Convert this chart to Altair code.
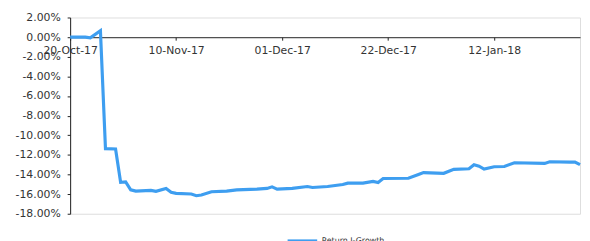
import altair as alt
import pandas as pd

series_name = "Return I-Growth"
dates = ["2017-10-20", "2017-10-23", "2017-10-24", "2017-10-26", "2017-10-27", "2017-10-29",
         "2017-10-30", "2017-10-31", "2017-11-01", "2017-11-02", "2017-11-05", "2017-11-06",
         "2017-11-08", "2017-11-09", "2017-11-10", "2017-11-13", "2017-11-14", "2017-11-15",
         "2017-11-17", "2017-11-20", "2017-11-22", "2017-11-26", "2017-11-28", "2017-11-29",
         "2017-11-30", "2017-12-03", "2017-12-06", "2017-12-07", "2017-12-10", "2017-12-13",
         "2017-12-14", "2017-12-17", "2017-12-19", "2017-12-20", "2017-12-21", "2017-12-26",
         "2017-12-28", "2017-12-29", "2018-01-02", "2018-01-04", "2018-01-07", "2018-01-08",
         "2018-01-09", "2018-01-10", "2018-01-12", "2018-01-14", "2018-01-16", "2018-01-22",
         "2018-01-23", "2018-01-27", "2018-01-28", "2018-01-29"]
values = [0.0, 0.0, -0.08, 0.65, -11.37, -11.4, -14.8, -14.75,
          -15.56, -15.69, -15.62, -15.72, -15.42, -15.82, -15.92, -15.99, -16.16, -16.09,
          -15.76, -15.7, -15.56, -15.49, -15.42, -15.26, -15.49,
          -15.42, -15.22, -15.32, -15.22, -15.02, -14.88, -14.88, -14.71, -14.81, -14.41,
          -14.38, -14.0, -13.81,
          -13.88, -13.48, -13.41, -13.0, -13.15, -13.45, -13.21, -13.18, -12.8, -12.87,
          -12.7, -12.74, -12.74, -13.0]
y_ticks = [2, 0, -2, -4, -6, -8, -10, -12, -14, -16, -18]
x_tick_dates = [(2017, 10, 20), (2017, 11, 10), (2017, 12, 1), (2017, 12, 22), (2018, 1, 12)]

df = pd.DataFrame({
    "date": [d + "T00:00:00" for d in dates],
    "value": values,
    "series": series_name,
})

font = "DejaVu Sans"
txt = "#333333"

chart = alt.Chart(df).mark_line(strokeWidth=3.2, interpolate="linear").encode(
    x=alt.X("date:T",
            scale=alt.Scale(domain=[alt.DateTime(year=2017, month=10, date=20),
                                    alt.DateTime(year=2018, month=1, date=29)]),
            axis=alt.Axis(title=None, format="%d-%b-%y", grid=False,
                          values=[alt.DateTime(year=y, month=m, date=d) for (y, m, d) in x_tick_dates],
                          offset=-179, tickSize=3, labelPadding=5,
                          domainColor="#222222", tickColor="#222222",
                          labelFont=font, labelFontSize=11, labelColor=txt,
                          labelFlush=False, labelOverlap=False)),
    y=alt.Y("value:Q",
            scale=alt.Scale(domain=[-18, 2], nice=False, zero=False),
            axis=alt.Axis(title=None, values=y_ticks, grid=False, tickSize=3, labelPadding=7,
                          labelExpr="(datum.value < 0 ? '-' : '') + format(abs(datum.value), '.2f') + '%'",
                          domainColor="#222222", tickColor="#222222",
                          labelFont=font, labelFontSize=11, labelColor=txt)),
    color=alt.Color("series:N",
                    scale=alt.Scale(range=["#3e9ef0"]),
                    legend=alt.Legend(title=None, orient="none", legendX=219, legendY=210,
                                      symbolType="stroke", symbolSize=900, symbolStrokeWidth=3,
                                      labelFont=font, labelFontSize=8, labelColor=txt,
                                      labelOffset=3)),
).properties(
    width=517,
    height=199,
    autosize=alt.AutoSizeParams(type="none"),
    padding={"left": 63, "top": 8, "right": 2, "bottom": 26},
).configure_view(stroke=None).configure(background="white")

chart.save("out.html", embed_options={"renderer": "svg", "actions": False})
